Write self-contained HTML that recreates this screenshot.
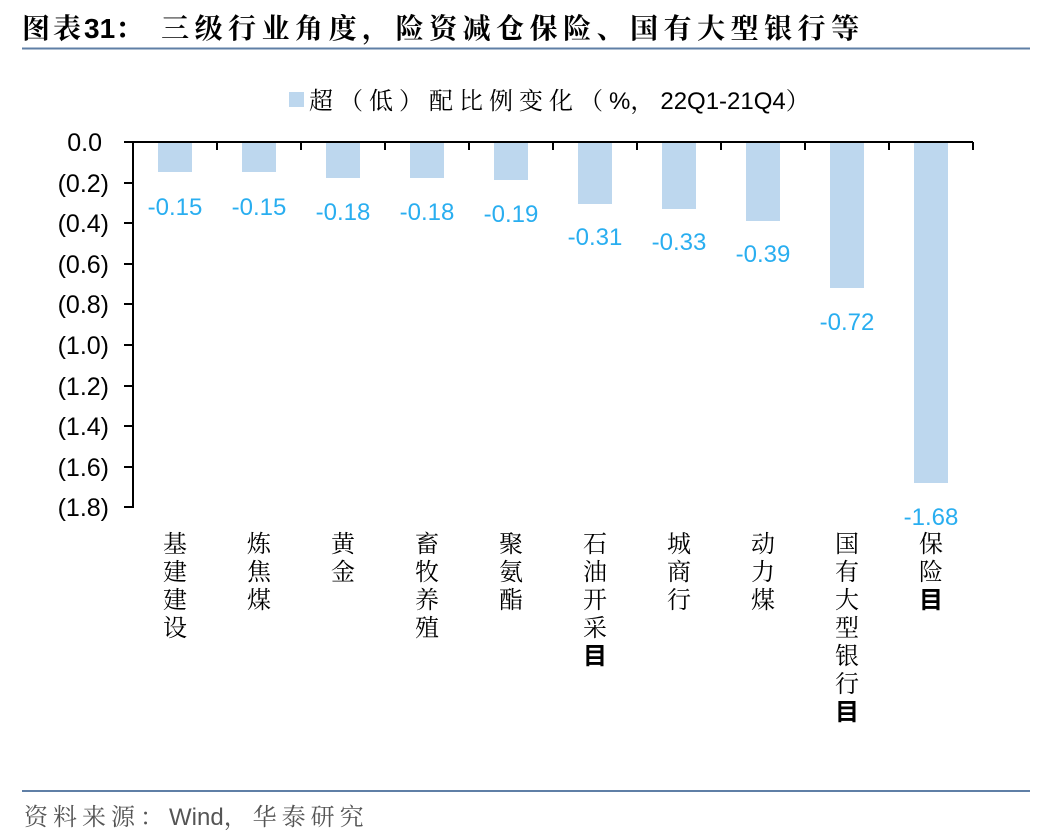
<!DOCTYPE html>
<html><head><meta charset="utf-8"><style>
body{margin:0;background:#fff;}
svg{display:block;}
</style></head><body>
<svg width="1062" height="840" xmlns="http://www.w3.org/2000/svg">
<text x="22" y="38" font-family="'Liberation Sans','Noto Serif CJK SC',serif" font-size="28" font-weight="bold" fill="#000"><tspan font-family="'Noto Serif CJK SC','Noto Sans CJK SC',serif" letter-spacing="3">图表</tspan>31<tspan font-family="'Noto Serif CJK SC','Noto Sans CJK SC',serif" letter-spacing="5.5">：  三级行业角度，险资减仓保险、国有大型银行等</tspan></text>
<line x1="22" y1="48.5" x2="1030" y2="48.5" stroke="#5f7fa6" stroke-width="2"/>
<rect x="289" y="92" width="15" height="15" fill="#bdd7ee"/>
<text x="309" y="109" font-family="'Liberation Sans','Noto Serif CJK SC',serif" font-size="24" fill="#000"><tspan font-family="'Noto Serif CJK SC','Noto Sans CJK SC',serif" letter-spacing="6">超（低）配比例变化（</tspan>%<tspan font-family="'Noto Serif CJK SC','Noto Sans CJK SC',serif" letter-spacing="6">，</tspan>22Q1-21Q4<tspan font-family="'Noto Serif CJK SC','Noto Sans CJK SC',serif">）</tspan></text>
<g font-family="'Liberation Sans',sans-serif" font-size="25" fill="#000" text-anchor="end">
<text x="102" y="151">0.0</text>
<text x="109" y="192">(0.2)</text>
<text x="109" y="232">(0.4)</text>
<text x="109" y="273">(0.6)</text>
<text x="109" y="313">(0.8)</text>
<text x="109" y="354">(1.0)</text>
<text x="109" y="395">(1.2)</text>
<text x="109" y="435">(1.4)</text>
<text x="109" y="476">(1.6)</text>
<text x="109" y="516">(1.8)</text>
</g>
<g stroke="#000" stroke-width="2">
<line x1="133" y1="142" x2="133" y2="508"/>
<line x1="124" y1="142" x2="973" y2="142"/>
<line x1="124" y1="183" x2="133" y2="183"/><line x1="124" y1="223" x2="133" y2="223"/><line x1="124" y1="264" x2="133" y2="264"/><line x1="124" y1="304" x2="133" y2="304"/><line x1="124" y1="345" x2="133" y2="345"/><line x1="124" y1="386" x2="133" y2="386"/><line x1="124" y1="426" x2="133" y2="426"/><line x1="124" y1="467" x2="133" y2="467"/><line x1="124" y1="507" x2="133" y2="507"/>
<line x1="217" y1="142" x2="217" y2="150"/><line x1="301" y1="142" x2="301" y2="150"/><line x1="385" y1="142" x2="385" y2="150"/><line x1="469" y1="142" x2="469" y2="150"/><line x1="553" y1="142" x2="553" y2="150"/><line x1="637" y1="142" x2="637" y2="150"/><line x1="721" y1="142" x2="721" y2="150"/><line x1="805" y1="142" x2="805" y2="150"/><line x1="889" y1="142" x2="889" y2="150"/><line x1="973" y1="142" x2="973" y2="150"/>
</g>
<g fill="#bdd7ee">
<rect x="158" y="143" width="34" height="29"/>
<rect x="242" y="143" width="34" height="29"/>
<rect x="326" y="143" width="34" height="35"/>
<rect x="410" y="143" width="34" height="35"/>
<rect x="494" y="143" width="34" height="37"/>
<rect x="578" y="143" width="34" height="61"/>
<rect x="662" y="143" width="34" height="66"/>
<rect x="746" y="143" width="34" height="78"/>
<rect x="830" y="143" width="34" height="145"/>
<rect x="914" y="143" width="34" height="340"/>
</g>
<g font-family="'Liberation Sans',sans-serif" font-size="24" fill="#29aef0" text-anchor="middle">
<text x="175" y="215">-0.15</text>
<text x="259" y="215">-0.15</text>
<text x="343" y="220">-0.18</text>
<text x="427" y="220">-0.18</text>
<text x="511" y="222">-0.19</text>
<text x="595" y="245">-0.31</text>
<text x="679" y="250">-0.33</text>
<text x="763" y="262">-0.39</text>
<text x="847" y="330">-0.72</text>
<text x="931" y="525">-1.68</text>
</g>
<g font-family="'Noto Serif CJK SC','Noto Sans CJK SC',serif" font-size="24" fill="#000" text-anchor="middle">
<text x="175" y="552">基</text><text x="175" y="580">建</text><text x="175" y="608">建</text><text x="175" y="636">设</text>
<text x="259" y="552">炼</text><text x="259" y="580">焦</text><text x="259" y="608">煤</text>
<text x="343" y="552">黄</text><text x="343" y="580">金</text>
<text x="427" y="552">畜</text><text x="427" y="580">牧</text><text x="427" y="608">养</text><text x="427" y="636">殖</text>
<text x="511" y="552">聚</text><text x="511" y="580">氨</text><text x="511" y="608">酯</text>
<text x="595" y="552">石</text><text x="595" y="580">油</text><text x="595" y="608">开</text><text x="595" y="636">采</text><text x="595" y="664" font-family="'Noto Sans CJK SC',sans-serif" font-weight="bold">目</text>
<text x="679" y="552">城</text><text x="679" y="580">商</text><text x="679" y="608">行</text>
<text x="763" y="552">动</text><text x="763" y="580">力</text><text x="763" y="608">煤</text>
<text x="847" y="552">国</text><text x="847" y="580">有</text><text x="847" y="608">大</text><text x="847" y="636">型</text><text x="847" y="664">银</text><text x="847" y="692">行</text><text x="847" y="720" font-family="'Noto Sans CJK SC',sans-serif" font-weight="bold">目</text>
<text x="931" y="552">保</text><text x="931" y="580">险</text><text x="931" y="608" font-family="'Noto Sans CJK SC',sans-serif" font-weight="bold">目</text>
</g>
<line x1="22" y1="791" x2="1030" y2="791" stroke="#5f7fa6" stroke-width="2"/>
<text x="24" y="825" font-family="'Liberation Sans','Noto Serif CJK SC',serif" font-size="24" fill="#555"><tspan font-family="'Noto Serif CJK SC','Noto Sans CJK SC',serif" letter-spacing="5">资料来源：</tspan>Wind<tspan font-family="'Noto Serif CJK SC','Noto Sans CJK SC',serif" letter-spacing="5">，华泰研究</tspan></text>
</svg>
</body></html>
